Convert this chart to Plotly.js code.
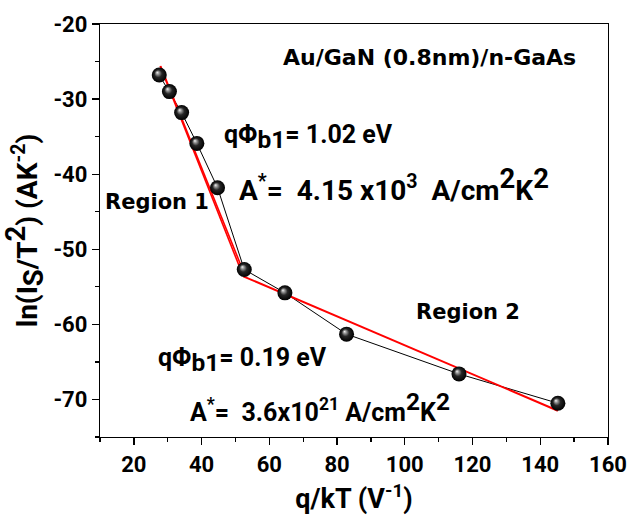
<!DOCTYPE html>
<html>
<head>
<meta charset="utf-8">
<script src="https://cdn.plot.ly/plotly-3.0.1.min.js"></script>
<style>
  html, body { margin: 0; padding: 0; background: #ffffff; }
  #chart { width: 630px; height: 518px; }
</style>
</head>
<body>
<div id="chart"></div>
<script>
// Richardson plot: ln(Is/T^2) versus q/kT for Au/GaN (0.8nm)/n-GaAs
var qkT    = [27.5, 30.5, 34.1, 38.6, 44.7, 52.6, 64.6, 82.8, 116.0, 145.2];
var lnIsT2 = [-26.8, -29.0, -31.8, -35.9, -41.8, -52.7, -55.8, -61.3, -66.6, -70.5];

// linear fits, region 1 (high temperature) and region 2 (low temperature)
var fit1aX = [27.75, 52.3];
var fit1aY = [-25.6, -53.6];
var fit1bX = [27.9, 52.9];
var fit1bY = [-25.6, -53.6];
var fit2X  = [52.3, 145.2];
var fit2Y  = [-53.6, -71.5];

var xTicks = [20, 40, 60, 80, 100, 120, 140, 160];
var yTicks = [-70, -60, -50, -40, -30, -20];

var SANS = 'Roboto, Arial, sans-serif';
var tickFont = { family: SANS, size: 22, color: '#000', weight: 700 };
var labelFont = { family: SANS, size: 25, color: '#000', weight: 700 };
var wideFont = { family: 'DejaVu Sans, Verdana, sans-serif', size: 21, color: '#000', weight: 'bold' };

function big(s) { return '<span style="font-size:140%">' + s + '</span>'; }

var data = [
  { x: qkT, y: lnIsT2, type: 'scatter', mode: 'lines',
    line: { color: '#000', width: 1 }, hoverinfo: 'skip' },
  { x: fit1aX, y: fit1aY, type: 'scatter', mode: 'lines',
    line: { color: '#ff0000', width: 1.6 }, hoverinfo: 'skip' },
  { x: fit1bX, y: fit1bY, type: 'scatter', mode: 'lines',
    line: { color: '#ff0000', width: 1.6 }, hoverinfo: 'skip' },
  { x: fit2X, y: fit2Y, type: 'scatter', mode: 'lines',
    line: { color: '#ff0000', width: 2 }, hoverinfo: 'skip' },
  { x: qkT, y: lnIsT2, type: 'scatter', mode: 'markers',
    marker: { size: 15, color: '#000', line: { width: 0 } } }
];

var axisCommon = {
  showgrid: false, zeroline: false, showline: true, linecolor: '#000', linewidth: 1.3,
  mirror: true, ticks: 'outside', ticklen: 7, tickwidth: 1.3, tickcolor: '#000',
  tickfont: tickFont
};

var layout = {
  width: 630, height: 518,
  margin: { l: 100, r: 22, t: 24, b: 81 },
  paper_bgcolor: '#fff', plot_bgcolor: '#fff',
  showlegend: false,
  xaxis: Object.assign({}, axisCommon, {
    range: [10, 160], tickvals: xTicks, ticktext: xTicks.map(String),
    minor: { dtick: 10, tick0: 0, ticks: 'outside', ticklen: 4, tickwidth: 1.3, tickcolor: '#000' },
    title: { text: 'q/kT (V<sup>-1</sup>)', font: { family: SANS, size: 27, color: '#000', weight: 700 }, standoff: 13 }
  }),
  yaxis: Object.assign({}, axisCommon, {
    range: [-75, -20], tickvals: yTicks, ticktext: yTicks.map(String),
    minor: { dtick: 5, tick0: 0, ticks: 'outside', ticklen: 4, tickwidth: 1.3, tickcolor: '#000' },
    title: { text: 'ln(I<sub>' + big('S') + '</sub>/T<sup>' + big('2') + '</sup>) (AK<sup>-2</sup>)',
             font: { family: SANS, size: 28, color: '#000', weight: 700 }, standoff: 7 }
  }),
  xaxis2: {
    overlaying: 'x', side: 'top', anchor: 'y', range: [10, 160],
    showgrid: false, zeroline: false, showline: false, showticklabels: false,
    ticks: 'inside', ticklen: 7, tickwidth: 1.3, tickcolor: '#000', tickvals: xTicks,
    minor: { dtick: 10, tick0: 0, ticks: 'inside', ticklen: 5, tickwidth: 1.3, tickcolor: '#000' }
  },
  yaxis2: {
    overlaying: 'y', side: 'right', anchor: 'x', range: [-75, -20],
    showgrid: false, zeroline: false, showline: false, showticklabels: false,
    ticks: 'inside', ticklen: 7, tickwidth: 1.3, tickcolor: '#000', tickvals: yTicks,
    minor: { dtick: 5, tick0: 0, ticks: 'inside', ticklen: 5, tickwidth: 1.3, tickcolor: '#000' }
  },
  annotations: [
    { xref: 'x', yref: 'y', x: 107.2, y: -24.4, xanchor: 'center', yanchor: 'middle', showarrow: false,
      text: 'Au/GaN (0.8nm)/n-GaAs', font: Object.assign({}, wideFont, { size: 22 }) },
    { xref: 'x', yref: 'y', x: 26.8, y: -43.7, xanchor: 'center', yanchor: 'middle', showarrow: false,
      text: 'Region 1', font: wideFont },
    { xref: 'x', yref: 'y', x: 118.8, y: -58.3, xanchor: 'center', yanchor: 'middle', showarrow: false,
      text: 'Region 2', font: wideFont },
    { xref: 'x', yref: 'y', x: 46.0, y: -35.1, xanchor: 'left', yanchor: 'middle', showarrow: false,
      text: 'qΦ<sub>' + big('b1') + '</sub>= 1.02 eV', font: labelFont },
    { xref: 'x', yref: 'y', x: 50.4, y: -41.5, xanchor: 'left', yanchor: 'middle', showarrow: false,
      text: 'A<sup>*</sup>=&nbsp;&nbsp;4.15 x10<sup>3</sup>&nbsp;&nbsp;A/cm<sup>' + big('2') + '</sup>K<sup>' + big('2') + '</sup>',
      font: Object.assign({}, labelFont, { size: 28 }) },
    { xref: 'x', yref: 'y', x: 26.5, y: -64.7, xanchor: 'left', yanchor: 'middle', showarrow: false,
      text: 'qΦ<sub>' + big('b1') + '</sub>= 0.19 eV', font: labelFont },
    { xref: 'x', yref: 'y', x: 35.9, y: -71.0, xanchor: 'left', yanchor: 'middle', showarrow: false,
      text: 'A<sup>*</sup>=&nbsp;&nbsp;3.6x10<sup>21</sup> A/cm<sup>' + big('2') + '</sup>K<sup>' + big('2') + '</sup>',
      font: labelFont }
  ]
};

Plotly.newPlot('chart', data, layout, { staticPlot: true }).then(function (gd) {
  // shaded sphere fill for the data markers
  var ns = 'http://www.w3.org/2000/svg';
  var svg = gd.querySelector('svg.main-svg');
  var defs = svg.querySelector('defs') || svg.insertBefore(document.createElementNS(ns, 'defs'), svg.firstChild);
  var grad = document.createElementNS(ns, 'radialGradient');
  grad.setAttribute('id', 'sphereShade');
  grad.setAttribute('cx', '0.5'); grad.setAttribute('cy', '0.5'); grad.setAttribute('r', '0.5');
  grad.setAttribute('fx', '0.36'); grad.setAttribute('fy', '0.32');
  [['0', '#f4f4f4'], ['0.2', '#9a9a9a'], ['0.5', '#262626'], ['1', '#000000']].forEach(function (s) {
    var st = document.createElementNS(ns, 'stop');
    st.setAttribute('offset', s[0]); st.setAttribute('stop-color', s[1]);
    grad.appendChild(st);
  });
  defs.appendChild(grad);
  var traces = gd.querySelectorAll('.scatterlayer .trace');
  var last = traces[traces.length - 1];
  last.querySelectorAll('.points path').forEach(function (p) {
    p.style.fill = 'url(#sphereShade)';
  });
});
</script>
</body>
</html>
